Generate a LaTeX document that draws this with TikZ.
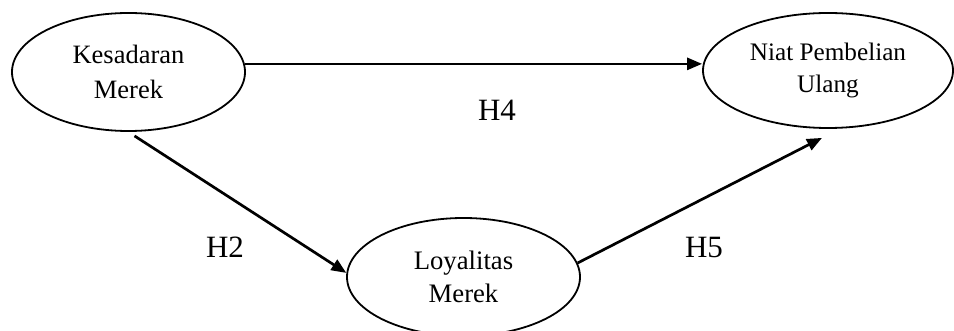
\documentclass[tikz,border=0pt]{standalone}
\usepackage{fontspec}
\setmainfont{Liberation Serif}
\usetikzlibrary{arrows.meta,shapes.geometric}
\begin{document}
\begin{tikzpicture}[x=1pt,y=-1pt,
  construct/.style={draw, ellipse, line width=1.8pt, inner sep=0pt, align=center},
  arr/.style={line width=2.7pt, -{Triangle[length=15pt,width=12pt]}},
  hyp/.style={anchor=base, font=\fontsize{31}{31}\selectfont, inner sep=0pt}]
\useasboundingbox (0,0) rectangle (954,331);
\node[construct, minimum width=233pt, minimum height=118pt,
  font=\fontsize{26.5}{35.6}\selectfont] (k) at (128.5,72) {Kesadaran\\Merek};
\node[construct, minimum width=250pt, minimum height=115pt,
  font=\fontsize{25.2}{31.7}\selectfont] (n) at (828,70.5) {Niat Pembelian\\Ulang};
\node[construct, minimum width=233pt, minimum height=118pt,
  font=\fontsize{26.7}{33}\selectfont] (l) at (463.5,277) {Loyalitas\\Merek};
\coordinate (kout) at ([shift={(6,4)}]k.south);
\coordinate (nin) at ([shift={(-6,9)}]n.south);
\draw[arr] (k.4.5) -- (k.4.5 -| n.west);
\draw[arr] (kout) -- (l.178.5);
\draw[arr] (l.7.5) -- (nin);
\node[hyp] (h4) at (497,121) {H4};
\node[hyp] (h2) at (225,258) {H2};
\node[hyp] (h5) at (704,258) {H5};
\end{tikzpicture}
\end{document}
